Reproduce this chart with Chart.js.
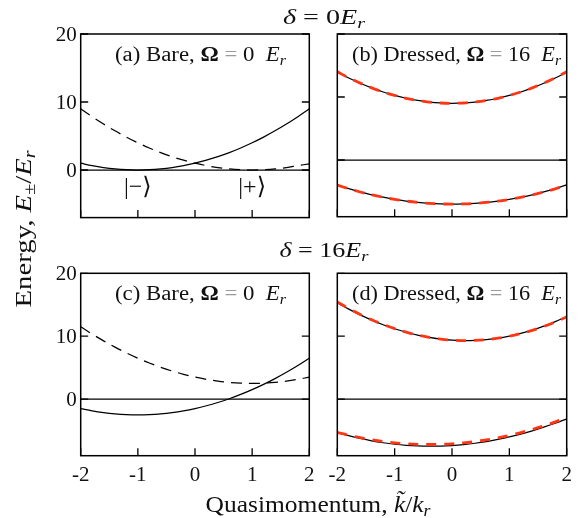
<!DOCTYPE html>
<html><head><meta charset="utf-8">
<script src="https://cdn.jsdelivr.net/npm/chart.js@4.4.0/dist/chart.umd.min.js"></script>
<style>
html,body{margin:0;padding:0;background:#fff;}
#wrap{position:relative;width:579px;height:518px;background:#fff;}
canvas{position:absolute;left:0;top:0;}
</style></head><body>
<div id="wrap">
<canvas id="cA" width="579" height="518"></canvas>
<canvas id="cB" width="579" height="518"></canvas>
<canvas id="cC" width="579" height="518"></canvas>
<canvas id="cD" width="579" height="518"></canvas>
</div>
<script>
// ---------- data ----------
const k = [-2, -1.8, -1.6, -1.4, -1.2, -1, -0.8, -0.6, -0.4, -0.2, 0, 0.2, 0.4, 0.6, 0.8, 1, 1.2, 1.4, 1.6, 1.8, 2];
const xTicks = [-2, -1, 0, 1, 2];
const xTickLabels = ["-2", "-1", "0", "1", "2"];
const yTicks = [0, 10, 20];
const yTickLabels = ["0", "10", "20"];

// (a) bare, delta = 0
const aSolid  = [1, 0.64, 0.36, 0.16, 0.04, 0, 0.04, 0.16, 0.36, 0.64, 1, 1.44, 1.96, 2.56, 3.24, 4, 4.84, 5.76, 6.76, 7.84, 9];
const aDashed = [9, 7.84, 6.76, 5.76, 4.84, 4, 3.24, 2.56, 1.96, 1.44, 1, 0.64, 0.36, 0.16, 0.04, 0, 0.04, 0.16, 0.36, 0.64, 0.9];
// (b) dressed, delta = 0
const bUpper    = [13.94, 13.01, 12.18, 11.44, 10.79, 10.25, 9.80, 9.45, 9.20, 9.05, 9.00, 9.05, 9.20, 9.45, 9.80, 10.25, 10.79, 11.44, 12.18, 13.01, 13.94];
const bLower    = [-3.94, -4.53, -5.06, -5.52, -5.91, -6.25, -6.52, -6.73, -6.88, -6.97, -7.00, -6.97, -6.88, -6.73, -6.52, -6.25, -5.91, -5.52, -5.06, -4.53, -3.94];
const bUpperFit = [14.00, 13.05, 12.20, 11.45, 10.80, 10.25, 9.80, 9.45, 9.20, 9.05, 9.00, 9.05, 9.20, 9.45, 9.80, 10.25, 10.80, 11.45, 12.20, 13.05, 14.00];
const bLowerFit = [-4.00, -4.57, -5.08, -5.53, -5.92, -6.25, -6.52, -6.73, -6.88, -6.97, -7.00, -6.97, -6.88, -6.73, -6.52, -6.25, -5.92, -5.53, -5.08, -4.57, -4.00];
// (c) bare, delta = 16
const cSolid  = [-1.5, -1.86, -2.14, -2.34, -2.46, -2.5, -2.46, -2.34, -2.14, -1.86, -1.5, -1.06, -0.54, 0.06, 0.74, 1.5, 2.34, 3.26, 4.26, 5.34, 6.5];
const cDashed = [11.5, 10.34, 9.26, 8.26, 7.34, 6.5, 5.74, 5.06, 4.46, 3.94, 3.5, 3.14, 2.86, 2.66, 2.54, 2.5, 2.54, 2.66, 2.86, 3.14, 3.5];
// (d) dressed, delta = 16
const dUpper    = [15.31, 14.30, 13.38, 12.56, 11.82, 11.18, 10.63, 10.17, 9.81, 9.55, 9.38, 9.31, 9.34, 9.47, 9.69, 10.02, 10.44, 10.97, 11.59, 12.32, 13.14];
const dLower    = [-5.31, -5.82, -6.26, -6.64, -6.94, -7.18, -7.35, -7.45, -7.49, -7.47, -7.38, -7.23, -7.02, -6.75, -6.41, -6.02, -5.56, -5.05, -4.47, -3.84, -3.14];
const dUpperFit = [15.45, 14.40, 13.45, 12.60, 11.85, 11.20, 10.64, 10.18, 9.82, 9.55, 9.38, 9.31, 9.34, 9.46, 9.68, 10.00, 10.42, 10.93, 11.55, 12.25, 13.06];
const dLowerFit = [-5.30, -5.75, -6.14, -6.47, -6.74, -6.95, -7.10, -7.19, -7.22, -7.19, -7.11, -6.96, -6.75, -6.48, -6.16, -5.77, -5.33, -4.82, -4.26, -3.63, -2.95];
const zeroLine = [0, 0];
const zeroX = [-2, 2];

// ---------- helpers ----------
const W = 579, H = 518;
const FONT = '"Liberation Serif", "DejaVu Serif", serif';
const F = (s, st) => (st ? st + ' ' : '') + s + 'px ' + FONT;
const TXT = '#111';
const RED = '#ff3516';

function pts(xs, ys) { return xs.map((x, i) => ({ x: x, y: ys[i] })); }

function drawRich(ctx, parts, x, y, opt) {
  opt = opt || {};
  ctx.save();
  let nat = 0;
  for (const p of parts) { ctx.font = p.f; nat += ctx.measureText(p.t).width + (p.g || 0); }
  const sx = opt.width ? opt.width / nat : 1;
  ctx.translate(x, y);
  if (opt.rotate) ctx.rotate(opt.rotate);
  ctx.scale(sx, 1);
  let cx = opt.align === 'center' ? -nat / 2 : 0;
  ctx.textBaseline = 'alphabetic';
  ctx.textAlign = 'left';
  for (const p of parts) {
    ctx.font = p.f;
    ctx.fillStyle = p.c || TXT;
    ctx.fillText(p.t, cx, p.dy || 0);
    cx += ctx.measureText(p.t).width + (p.g || 0);
  }
  ctx.restore();
}

function solid(data) {
  return { data: data, borderColor: '#000', borderWidth: 1.25, tension: 0.35, pointRadius: 0, fill: false };
}
function dashed(data) {
  return { data: data, borderColor: '#000', borderWidth: 1.25, borderDash: [11, 7], tension: 0.35, pointRadius: 0, fill: false };
}
function redDash(data) {
  return { data: data, borderColor: RED, borderWidth: 2.8, borderDash: [10, 8], tension: 0.35, pointRadius: 0, fill: false };
}

function panelLabel(letter, kind, omega) {
  const s = 20, ss = 14;
  return [
    { t: '(' + letter + ') ' + kind + ', ', f: F(s) },
    { t: '\u03A9', f: F(s, 'bold') },
    { t: ' = ', f: F(s), c: '#9a9a9a' },
    { t: omega + '  ', f: F(s) },
    { t: 'E', f: F(s, 'italic') },
    { t: 'r', f: F(ss, 'italic'), dy: 4 }
  ];
}

function decoPlugin(cfg) {
  return {
    id: 'deco' + cfg.name,
    afterDatasetsDraw(chart) {
      const ctx = chart.ctx, a = chart.chartArea;
      const xs = chart.scales.x, ys = chart.scales.y;
      ctx.save();
      // frame
      ctx.strokeStyle = '#000';
      ctx.lineWidth = 1.5;
      ctx.strokeRect(a.left, a.top, a.right - a.left, a.bottom - a.top);
      // ticks
      ctx.lineWidth = 1.3;
      ctx.beginPath();
      for (const v of xTicks) {
        const px = xs.getPixelForValue(v);
        ctx.moveTo(px, a.bottom); ctx.lineTo(px, a.bottom - 7.5);
      }
      for (const v of yTicks) {
        const py = ys.getPixelForValue(v);
        ctx.moveTo(a.left, py); ctx.lineTo(a.left + 7.5, py);
        ctx.moveTo(a.right, py); ctx.lineTo(a.right - 7.5, py);
      }
      ctx.stroke();
      // tick labels
      ctx.fillStyle = TXT;
      ctx.font = F(21);
      if (cfg.yLabels) {
        ctx.textAlign = 'right'; ctx.textBaseline = 'middle';
        yTicks.forEach((v, i) => ctx.fillText(yTickLabels[i], a.left - 4, ys.getPixelForValue(v) + 1));
      }
      if (cfg.xLabels) {
        ctx.textAlign = 'center'; ctx.textBaseline = 'middle';
        xTicks.forEach((v, i) => ctx.fillText(xTickLabels[i], xs.getPixelForValue(v), a.bottom + 20));
      }
      // panel label
      drawRich(ctx, cfg.label, cfg.labelX, a.top + 27, { width: cfg.labelW });
      if (cfg.extra) cfg.extra(chart);
      ctx.restore();
    }
  };
}

function makePanel(id, rect, yMin, yMax, datasets, cfg) {
  return new Chart(document.getElementById(id), {
    type: 'line',
    data: { datasets: datasets },
    options: {
      responsive: false, animation: false, events: [],
      layout: { padding: { left: rect.l, top: rect.t, right: W - rect.r, bottom: H - rect.b } },
      scales: {
        x: { type: 'linear', min: -2, max: 2, display: false },
        y: { type: 'linear', min: yMin, max: yMax, display: false }
      },
      plugins: { legend: { display: false }, tooltip: { enabled: false } }
    },
    plugins: [decoPlugin(cfg)]
  });
}

function globalText(chart) {
  const ctx = chart.ctx;
  const s = 21, ss = 15;
  drawRich(ctx, [
    { t: '\u03B4', f: F(s, 'italic') }, { t: ' = ', f: F(s) }, { t: '0', f: F(s) },
    { t: 'E', f: F(s, 'italic') }, { t: 'r', f: F(ss, 'italic'), dy: 4 }
  ], 324, 24, { align: 'center', width: 82 });
  drawRich(ctx, [
    { t: '\u03B4', f: F(s, 'italic') }, { t: ' = ', f: F(s) }, { t: '16', f: F(s) },
    { t: 'E', f: F(s, 'italic') }, { t: 'r', f: F(ss, 'italic'), dy: 4 }
  ], 324, 257, { align: 'center', width: 89 });
  // y axis title
  drawRich(ctx, [
    { t: 'Energy, ', f: F(23) }, { t: 'E', f: F(23, 'italic') }, { t: '\u00B1', f: F(16), dy: 4 },
    { t: '/', f: F(23) }, { t: 'E', f: F(23, 'italic') }, { t: 'r', f: F(16, 'italic'), dy: 4 }
  ], 31, 229, { align: 'center', rotate: -Math.PI / 2, width: 157 });
  // x axis title
  drawRich(ctx, [
    { t: 'Quasimomentum, ', f: F(23) }, { t: 'k\u0303', f: F(23, 'italic') },
    { t: '/', f: F(23) }, { t: 'k', f: F(23, 'italic') }, { t: 'r', f: F(16, 'italic'), dy: 4 }
  ], 318, 512, { align: 'center', width: 225 });
  // state labels in (a)
  const xs = chart.scales.x;
  ctx.fillStyle = TXT;
  ctx.font = F(24);
  ctx.textAlign = 'center'; ctx.textBaseline = 'middle';
  ctx.fillText('|\u2212\u27E9', xs.getPixelForValue(-1), 188);
  ctx.fillText('|+\u27E9', xs.getPixelForValue(1), 188);
}

const rA = { l: 80.7, r: 309.3, t: 34, b: 217.6 };
const rB = { l: 337.3, r: 566.7, t: 34, b: 216.7 };
const rC = { l: 80.7, r: 309.3, t: 273.3, b: 455.7 };
const rD = { l: 337.3, r: 566.7, t: 273.3, b: 455.7 };

makePanel('cA', rA, -7, 20, [
  solid(pts(k, aSolid)), dashed(pts(k, aDashed)), solid(pts(zeroX, zeroLine))
], { name: 'A', yLabels: true, xLabels: false, label: panelLabel('a', 'Bare', '0'), labelX: 115, labelW: 171, extra: globalText });

makePanel('cB', rB, -9, 20, [
  redDash(pts(k, bUpperFit)), redDash(pts(k, bLowerFit)),
  solid(pts(k, bUpper)), solid(pts(k, bLower)), solid(pts(zeroX, zeroLine))
], { name: 'B', yLabels: false, xLabels: false, label: panelLabel('b', 'Dressed', '16'), labelX: 352, labelW: 209 });

makePanel('cC', rC, -9, 20, [
  solid(pts(k, cSolid)), dashed(pts(k, cDashed)), solid(pts(zeroX, zeroLine))
], { name: 'C', yLabels: true, xLabels: true, label: panelLabel('c', 'Bare', '0'), labelX: 115, labelW: 171 });

makePanel('cD', rD, -9, 20, [
  redDash(pts(k, dUpperFit)), redDash(pts(k, dLowerFit)),
  solid(pts(k, dUpper)), solid(pts(k, dLower)), solid(pts(zeroX, zeroLine))
], { name: 'D', yLabels: false, xLabels: true, label: panelLabel('d', 'Dressed', '16'), labelX: 352, labelW: 209 });
</script>
</body></html>
